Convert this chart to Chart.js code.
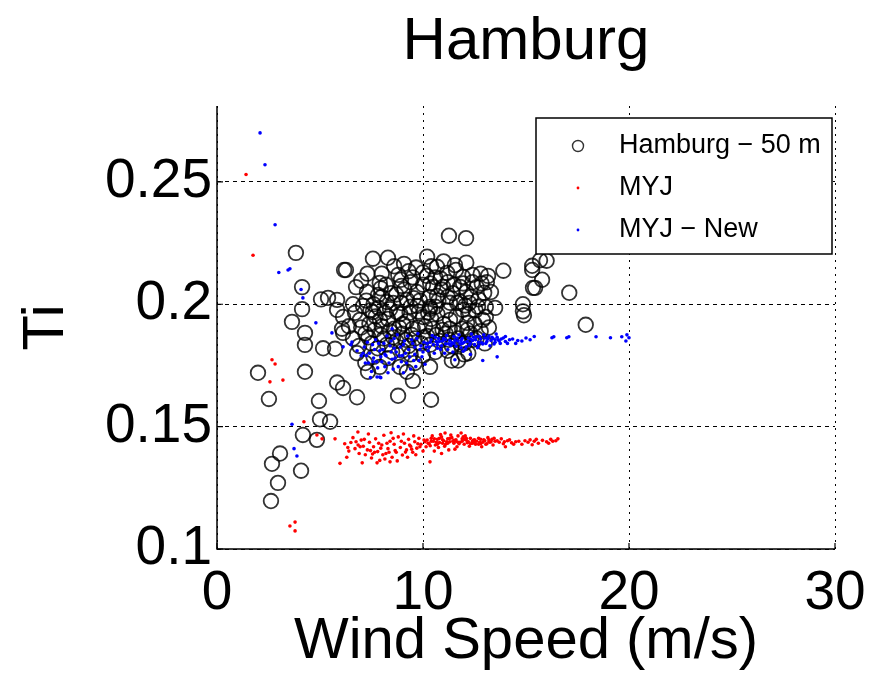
<!DOCTYPE html>
<html><head><meta charset="utf-8">
<script src="https://cdn.jsdelivr.net/npm/chart.js@4.4.1/dist/chart.umd.min.js"></script>
<style>html,body{margin:0;padding:0;background:#fff;}canvas{display:block}</style>
</head><body>
<canvas id="c" width="878" height="678"></canvas>
<script>
const chartTitle = 'Hamburg';
const xTitle = 'Wind Speed (m/s)';
const yTitle = 'Ti';
const seriesNames = ['Hamburg \u2212 50 m', 'MYJ', 'MYJ \u2212 New'];
const xTicks = [0, 10, 20, 30];
const yTicks = [0.1, 0.15, 0.2, 0.25];

// Observed (Hamburg - 50 m): [wind speed, Ti]
const hamburgPts = [
[3.83,0.221],[6.17,0.214],[4.13,0.207],[5.05,0.202],[5.39,0.2026],[4.13,0.198],[5.83,0.1977],[3.64,0.1928],[6.07,0.190],[6.12,0.1883],
[4.27,0.1883],[4.27,0.1834],[5.15,0.182],[5.73,0.1818],[1.99,0.172],[4.27,0.1724],[5.83,0.168],[6.12,0.1658],[2.52,0.1613],[4.95,0.1605],
[5.0,0.153],[5.49,0.152],[4.17,0.1466],[4.85,0.1446],[3.06,0.139],[2.67,0.1348],[4.08,0.132],[2.96,0.127],[2.62,0.1196],
[6.8,0.162],[8.79,0.1626],[10.39,0.161],[11.7,0.177],[9.51,0.1687],[6.8,0.180],[7.33,0.1724],[7.9,0.1744],[8.88,0.1744],[9.22,0.1724],[10.34,0.1744],
[7.57,0.2186],[8.3,0.219],[6.26,0.214],[10.2,0.2194],[7.0,0.2096],[7.9,0.2087],[6.75,0.207],[9.08,0.2165],[9.66,0.215],[8.93,0.210],
[9.5,0.211],[10.19,0.2116],[7.28,0.205],[7.82,0.2038],[5.83,0.2018],[6.6,0.200],[7.09,0.1993],[7.57,0.1968],[8.25,0.2009],[8.74,0.1968],
[9.22,0.2018],[9.71,0.1993],[10.34,0.1981],[10.68,0.2034],[6.12,0.1948],[6.94,0.1936],[7.91,0.1936],[9.03,0.192],[10.0,0.1948],
[11.26,0.228],[12.09,0.227],[11.55,0.216],[12.1,0.217],[13.16,0.2116],[13.9,0.2137],[15.3,0.214],[15.34,0.2067],[10.68,0.2153],[10.49,0.2071],
[11.17,0.2128],[10.97,0.2071],[11.94,0.2112],[11.8,0.2071],[12.6,0.207],[12.67,0.199],[12.33,0.2030],[12.9,0.1936],[10.34,0.1989],[11.31,0.2006],
[11.94,0.1977],[11.31,0.1936],[12.14,0.1924],[13.1,0.209],[15.68,0.218],[15.3,0.2157],[16.0,0.2178],[15.78,0.2100],[15.44,0.2067],[17.1,0.2047],
[14.85,0.200],[14.85,0.1971],[14.9,0.1955],[17.9,0.1916],[12.97,0.2047],[13.05,0.1989],[13.05,0.1948],
[7.2,0.188],[7.5,0.184],[7.8,0.182],[8.1,0.186],[8.4,0.189],[8.7,0.185],[9.0,0.188],[9.3,0.183],[9.6,0.186],[9.9,0.184],
[10.2,0.187],[10.5,0.190],[10.8,0.185],[11.1,0.188],[11.4,0.183],[11.7,0.186],[12.0,0.184],[12.3,0.188],
[7.4,0.192],[7.7,0.195],[8.0,0.191],[8.3,0.194],[8.6,0.190],[8.9,0.196],[9.2,0.193],[9.5,0.190],[9.8,0.197],[10.1,0.191],
[10.4,0.194],[10.7,0.196],[11.0,0.192],[11.3,0.190],[11.6,0.195],[11.9,0.190],[12.2,0.196],[12.5,0.192],[12.8,0.189],
[7.6,0.200],[8.0,0.203],[8.4,0.198],[8.7,0.204],[9.1,0.206],[9.4,0.199],[9.7,0.205],[10.0,0.208],[10.3,0.203],[10.6,0.199],
[10.9,0.206],[11.2,0.203],[11.5,0.208],[11.8,0.201],[12.1,0.205],[12.4,0.209],[12.7,0.202],
[8.2,0.208],[8.8,0.212],[9.4,0.209],[10.0,0.213],[10.6,0.211],[11.2,0.209],[11.6,0.214],[12.4,0.212],[13.3,0.205],[9.0,0.181],
[10.0,0.179],[11.2,0.181],[8.3,0.178],[9.6,0.176],[7.2,0.176],[12.6,0.186],[13.0,0.184],[12.2,0.180],[11.4,0.177],[6.6,0.186],
[6.9,0.183],[6.4,0.191],
[7.35,0.1865],[7.65,0.1895],[7.95,0.1875],[8.25,0.1835],[8.55,0.1865],[8.85,0.1905],[9.15,0.1855],[9.45,0.1875],[9.75,0.1905],[10.05,0.1865],
[10.35,0.1835],[10.65,0.1875],[10.95,0.1895],[11.25,0.1855],[11.55,0.1885],[11.85,0.1835],[12.15,0.1895],[12.45,0.1855],
[7.45,0.1975],[7.85,0.1985],[8.15,0.1965],[8.55,0.2005],[8.95,0.2005],[9.35,0.1965],[9.85,0.2015],[10.25,0.1965],[10.75,0.2015],[11.15,0.1975],
[11.65,0.2005],[12.05,0.1995],[12.55,0.1975],
[7.25,0.2015],[7.95,0.2065],[8.45,0.2045],[8.95,0.2075],[9.55,0.2025],[10.35,0.2085],[10.85,0.2105],[11.45,0.2045],[11.95,0.2085],[12.25,0.2005],
[12.85,0.2085],[8.6,0.2155],[9.3,0.2135],[10.4,0.2155],[11.0,0.2175],[12.8,0.2125],[7.3,0.2125],[8.0,0.2125],
[7.0,0.1905],[6.7,0.1965],[13.2,0.1905],[13.5,0.1985],[12.0,0.1795],[10.6,0.1805],[9.4,0.1795],[8.5,0.1805],[7.6,0.1785]
];

// MYJ model: [wind speed, Ti]
const myjPts = [
[1.41,0.253],[1.75,0.220],[2.67,0.1773],[2.82,0.1756],[2.57,0.1683],[3.2,0.169],[4.22,0.152],[4.85,0.1466],[5.1,0.145],[5.73,0.145],
[5.97,0.135],[3.54,0.1094],[3.79,0.111],[3.79,0.1074],[6.84,0.1478],
[6.2,0.143],[6.4,0.140],[6.5,0.1435],[6.7,0.141],[6.9,0.139],[7.0,0.1445],[7.1,0.142],[7.2,0.1385],[7.3,0.1405],[7.4,0.1436],
[7.5,0.1372],[7.6,0.1418],[7.7,0.145],[7.8,0.1398],[7.9,0.1362],[8.0,0.1425],[8.1,0.1465],[8.2,0.1390],[8.3,0.1410],[8.4,0.1440],
[8.5,0.1375],[8.6,0.1428],[8.7,0.1395],[8.8,0.1458],[8.9,0.1415],[9.0,0.1384],[9.1,0.1432],[9.2,0.1405],[9.3,0.1448],[9.4,0.1420],
[9.5,0.1395],[9.6,0.1438],[9.7,0.1412],[9.8,0.1452],[9.9,0.1428],[10.0,0.1400],[7.05,0.1352],[7.55,0.1388],[8.15,0.1368],[8.75,0.1360],
[9.25,0.1375],[6.6,0.1455],[7.35,0.1470],[8.45,0.1475],[9.05,0.1470],[9.55,0.1462],[6.3,0.1375],[6.85,0.1425],[7.85,0.1432],[8.35,0.1395],
[8.95,0.1440],[9.45,0.1408],[9.85,0.1418],[10.34,0.1356],[7.77,0.1352],[8.4,0.1356],
[6.35,0.1415],[6.75,0.1438],[7.15,0.1448],[7.45,0.1402],[7.95,0.1412],[8.25,0.1432],[8.65,0.1402],[9.15,0.1396],[9.35,0.1425],[9.75,0.1430],
[6.95,0.1418],[7.65,0.1395],[8.05,0.1385],[8.55,0.1452],[9.65,0.1385],
[10.1,0.1438],[10.2,0.1445],[10.3,0.1430],[10.4,0.1452],[10.5,0.1440],[10.6,0.1425],[10.7,0.1448],[10.8,0.1435],[10.9,0.1458],[11.0,0.1442],
[11.07,0.1474],[11.1,0.1428],[11.2,0.1450],[11.3,0.1438],[11.4,0.1455],[11.5,0.1432],[11.6,0.1446],[11.7,0.1462],[11.8,0.1436],[11.85,0.1474],
[11.9,0.1450],[12.0,0.1428],[12.1,0.1445],[12.2,0.1438],[12.3,0.1452],[12.4,0.1432],[12.5,0.1446],[12.6,0.1440],[12.7,0.1428],[12.8,0.1448],
[12.9,0.1436],[13.0,0.1442],[13.1,0.1430],[13.2,0.1446],[13.3,0.1438],[13.4,0.1425],[13.5,0.1440],
[10.15,0.1418],[10.45,0.1462],[10.75,0.1415],[11.05,0.1420],[11.35,0.1466],[11.65,0.1418],[11.95,0.1458],[12.25,0.1420],[12.55,0.1428],[12.85,0.1418],
[13.15,0.1455],[10.55,0.1400],[11.25,0.1405],[10.85,0.1468],[12.05,0.1462],[11.55,0.1408],[10.35,0.1422],[10.65,0.1436],[10.95,0.1432],[11.45,0.1440],
[11.75,0.1430],[12.15,0.1434],[12.45,0.1444],[12.75,0.1436],[13.05,0.1428],[13.35,0.1448],[10.9,0.1390],
[10.05,0.1445],[10.25,0.1432],[10.55,0.1450],[10.7,0.1428],[10.95,0.1446],[11.15,0.1438],[11.3,0.1452],[11.5,0.1444],[11.7,0.1436],[11.9,0.1440],
[12.1,0.1452],[12.3,0.1430],[12.5,0.1438],[12.7,0.1452],[12.95,0.1446],[13.25,0.1436],[13.45,0.1452],[10.4,0.1440],[10.8,0.1452],[11.2,0.1432],
[11.6,0.1440],[12.0,0.1448],[12.4,0.1440],[12.8,0.1430],[13.2,0.1438],
[13.7,0.1436],[13.9,0.1430],[14.1,0.1442],[14.3,0.1434],[14.5,0.1438],[14.8,0.1428],[15.1,0.1436],[15.4,0.1440],[15.6,0.1432],[15.8,0.1444],
[16.0,0.1438],[16.2,0.1448],[16.55,0.1450],[14.0,0.1418],[13.8,0.1450],[15.3,0.1426],[16.3,0.1440],
[13.6,0.1442],[14.2,0.1446],[14.65,0.1440],[14.95,0.1442],[15.5,0.1448],[16.1,0.1432],[16.45,0.1442],[13.95,0.1438],[14.4,0.1428],[15.2,0.1446]
];

// MYJ - New model: [wind speed, Ti]
const myjNewPts = [
[2.09,0.270],[2.33,0.257],[2.82,0.2325],[3.0,0.213],[3.45,0.214],[3.54,0.2145],[4.08,0.206],[4.17,0.2026],[4.8,0.1924],[5.58,0.1883],
[3.64,0.151],[3.74,0.141],[3.88,0.138],[6.12,0.1826],[6.55,0.1846],[7.09,0.180],[7.57,0.1765],[7.9,0.1703],[7.77,0.1703],[8.5,0.190],
[6.5,0.1835],[6.8,0.1810],[7.0,0.1790],[7.2,0.1760],[7.3,0.1845],[7.4,0.1800],[7.5,0.1725],[7.6,0.1780],[7.7,0.1855],[7.8,0.1740],
[7.9,0.1810],[8.0,0.1765],[8.1,0.1840],[8.2,0.1790],[8.3,0.1720],[8.4,0.1830],[8.5,0.1775],[8.6,0.1860],[8.7,0.1805],[8.8,0.1745],
[8.9,0.1825],[9.0,0.1790],[9.1,0.1850],[9.2,0.1760],[9.3,0.1815],[9.4,0.1735],[9.5,0.1840],[9.6,0.1795],[9.7,0.1860],[9.8,0.1770],
[9.9,0.1830],[10.0,0.1805],[7.45,0.1700],[7.95,0.1700],[8.55,0.1735],[9.05,0.1720],[9.65,0.1745],[8.25,0.1870],[8.75,0.1875],[9.25,0.1870],
[9.75,0.1880],[7.15,0.1825],[7.65,0.1815],[8.15,0.1795],[8.65,0.1780],[9.15,0.1800],[9.55,0.1770],[9.95,0.1785],[10.1,0.1755],[8.45,0.1805],
[7.85,0.1840],
[7.25,0.1790],[7.55,0.1835],[7.75,0.1765],[8.05,0.1815],[8.35,0.1760],[8.6,0.1820],[8.85,0.1790],[9.05,0.1835],[9.35,0.1785],[9.45,0.1855],
[9.85,0.1815],[7.95,0.1785],[8.45,0.1850],[8.95,0.1765],[9.6,0.1825],[10.05,0.1845],[7.35,0.1760],[8.15,0.1745],
[10.2,0.1840],[10.3,0.1825],[10.4,0.1855],[10.5,0.1835],[10.6,0.1865],[10.7,0.1820],[10.8,0.1848],[10.9,0.1830],[11.0,0.1860],[11.1,0.1838],
[11.2,0.1815],[11.3,0.1852],[11.4,0.1842],[11.5,0.1868],[11.6,0.1828],[11.7,0.1850],[11.8,0.1838],[11.9,0.1860],[12.0,0.1845],[12.1,0.1825],
[12.2,0.1862],[12.3,0.1840],[12.4,0.1852],[12.5,0.1835],[12.6,0.1868],[12.7,0.1845],[12.8,0.1858],[12.9,0.1838],[13.0,0.1862],[13.1,0.1848],
[13.2,0.1870],[13.3,0.1852],[13.4,0.1860],[13.5,0.1845],[13.6,0.1865],[13.7,0.1850],[13.8,0.1858],[14.0,0.1848],[14.2,0.1855],[14.5,0.1840],
[10.25,0.1810],[10.55,0.1800],[10.85,0.1815],[11.15,0.1872],[11.45,0.1805],[11.75,0.1875],[12.05,0.1815],[12.35,0.1878],[12.65,0.1822],[12.95,0.1875],
[13.25,0.1830],[13.55,0.1878],[10.45,0.1872],[11.05,0.1800],[11.95,0.1808],[12.15,0.1848],[12.45,0.1865],[12.85,0.1842],[13.15,0.1858],[13.45,0.1838],
[10.65,0.1848],[11.25,0.1838],[11.55,0.1852],[11.85,0.1822],
[10.35,0.1845],[10.75,0.1860],[10.95,0.1850],[11.35,0.1832],[11.65,0.1862],[11.85,0.1852],[12.25,0.1832],[12.55,0.1855],[12.75,0.1868],[13.05,0.1840],
[13.35,0.1865],[13.65,0.1855],[13.9,0.1862],[14.1,0.1840],[14.35,0.1858],[14.6,0.1852],[10.15,0.1825],[10.7,0.1835],[11.1,0.1855],[11.5,0.1840],
[11.9,0.1840],[12.3,0.1858],[12.7,0.1830],[13.1,0.1862],[13.5,0.1855],[13.75,0.1840],[14.0,0.1868],
[12.9,0.177],[13.6,0.1785],[11.55,0.1773],[12.3,0.1795],
[14.8,0.1850],[15.0,0.1862],[15.2,0.1855],[15.4,0.1868],[16.26,0.1863],[16.35,0.1867],[16.98,0.1863],[17.08,0.1867],[18.4,0.1867],[19.1,0.1863],
[19.65,0.1867],[19.9,0.1875],[20.0,0.1863],[19.85,0.1850]
];

const toXY = arr => arr.map(p => ({x: p[0], y: p[1]}));
const FONT = "'Liberation Sans', Arial, Helvetica, sans-serif";
Chart.defaults.font.family = FONT;
Chart.defaults.color = '#000';

const legendAndTicks = {
  id: 'legendAndTicks',
  afterDraw(chart) {
    const ctx = chart.ctx;
    const a = chart.chartArea;
    const xs = chart.scales.x, ys = chart.scales.y;
    ctx.save();
    ctx.setLineDash([]);
    // solid axes (left and bottom)
    ctx.strokeStyle = '#000'; ctx.lineWidth = 1.5;
    ctx.beginPath();
    ctx.moveTo(a.left, a.top); ctx.lineTo(a.left, a.bottom); ctx.lineTo(a.right, a.bottom);
    ctx.stroke();
    // inward tick marks
    ctx.lineWidth = 1.2;
    ctx.beginPath();
    xTicks.forEach(v => { const px = xs.getPixelForValue(v); ctx.moveTo(px, a.bottom); ctx.lineTo(px, a.bottom - 6); });
    yTicks.forEach(v => { const py = ys.getPixelForValue(v); ctx.moveTo(a.left, py); ctx.lineTo(a.left + 6, py); });
    ctx.stroke();
    // legend box
    const bx = a.right - 299, by = a.top + 12, bw = 296, bh = 136;
    ctx.fillStyle = '#fff';
    ctx.fillRect(bx, by, bw, bh);
    ctx.strokeStyle = '#000'; ctx.lineWidth = 1.5;
    ctx.strokeRect(bx, by, bw, bh);
    ctx.font = '27px ' + FONT;
    ctx.textBaseline = 'middle'; ctx.textAlign = 'left';
    chart.data.datasets.forEach((ds, i) => {
      const cy = by + 28 + i * 42;
      const mx = bx + 42;
      ctx.beginPath();
      if (i === 0) {
        ctx.arc(mx, cy, 5.5, 0, Math.PI * 2);
        ctx.strokeStyle = ds.borderColor; ctx.lineWidth = 1.4; ctx.stroke();
      } else {
        ctx.arc(mx, cy, 1.4, 0, Math.PI * 2);
        ctx.fillStyle = ds.backgroundColor; ctx.fill();
      }
      ctx.fillStyle = '#000';
      ctx.fillText(ds.label, bx + 83, cy);
    });
    ctx.restore();
  }
};

new Chart(document.getElementById('c'), {
  type: 'scatter',
  data: {
    datasets: [
      { label: seriesNames[0], data: toXY(hamburgPts), pointStyle: 'circle', pointRadius: 7.3, pointHoverRadius: 7.3,
        borderColor: 'rgba(0,0,0,0.8)', backgroundColor: 'rgba(0,0,0,0)', borderWidth: 1.8, order: 3 },
      { label: seriesNames[1], data: toXY(myjPts), pointStyle: 'circle', pointRadius: 1.8, pointHoverRadius: 1.8,
        borderWidth: 0, borderColor: '#ff0000', backgroundColor: '#ff0000', order: 2 },
      { label: seriesNames[2], data: toXY(myjNewPts), pointStyle: 'circle', pointRadius: 1.8, pointHoverRadius: 1.8,
        borderWidth: 0, borderColor: '#0000ff', backgroundColor: '#0000ff', order: 1 }
    ]
  },
  options: {
    responsive: false,
    animation: false,
    events: [],
    layout: { padding: { left: 0, right: 43, top: 0, bottom: 0 } },
    plugins: {
      legend: { display: false },
      tooltip: { enabled: false },
      title: { display: true, fullSize: false, text: chartTitle, color: '#000',
        font: { size: 60, weight: 'normal', family: FONT }, padding: { top: 6, bottom: 28 } }
    },
    scales: {
      x: {
        type: 'linear', min: 0, max: 30,
        afterBuildTicks: s => { s.ticks = xTicks.map(v => ({ value: v })); },
        afterFit: s => { s.height = 129; },
        ticks: { font: { size: 55 }, color: '#000', padding: 12, maxRotation: 0, autoSkip: false,
          callback: v => String(v) },
        grid: { color: '#000', lineWidth: 1, drawTicks: false },
        border: { display: false, dash: [2, 5] },
        title: { display: true, text: xTitle, color: '#000', font: { size: 58 }, padding: { top: 0, bottom: 1 } }
      },
      y: {
        type: 'linear', min: 0.1, max: 0.281,
        afterBuildTicks: s => { s.ticks = yTicks.map(v => ({ value: v })); },
        afterFit: s => { s.width = 217; },
        ticks: { font: { size: 55 }, color: '#000', padding: 5, autoSkip: false,
          callback: v => String(v) },
        grid: { color: '#000', lineWidth: 1, drawTicks: false },
        border: { display: false, dash: [4, 4] },
        title: { display: true, text: yTitle, color: '#000', font: { size: 58 }, padding: { top: 12, bottom: 0 } }
      }
    }
  },
  plugins: [legendAndTicks]
});
</script>
</body></html>
